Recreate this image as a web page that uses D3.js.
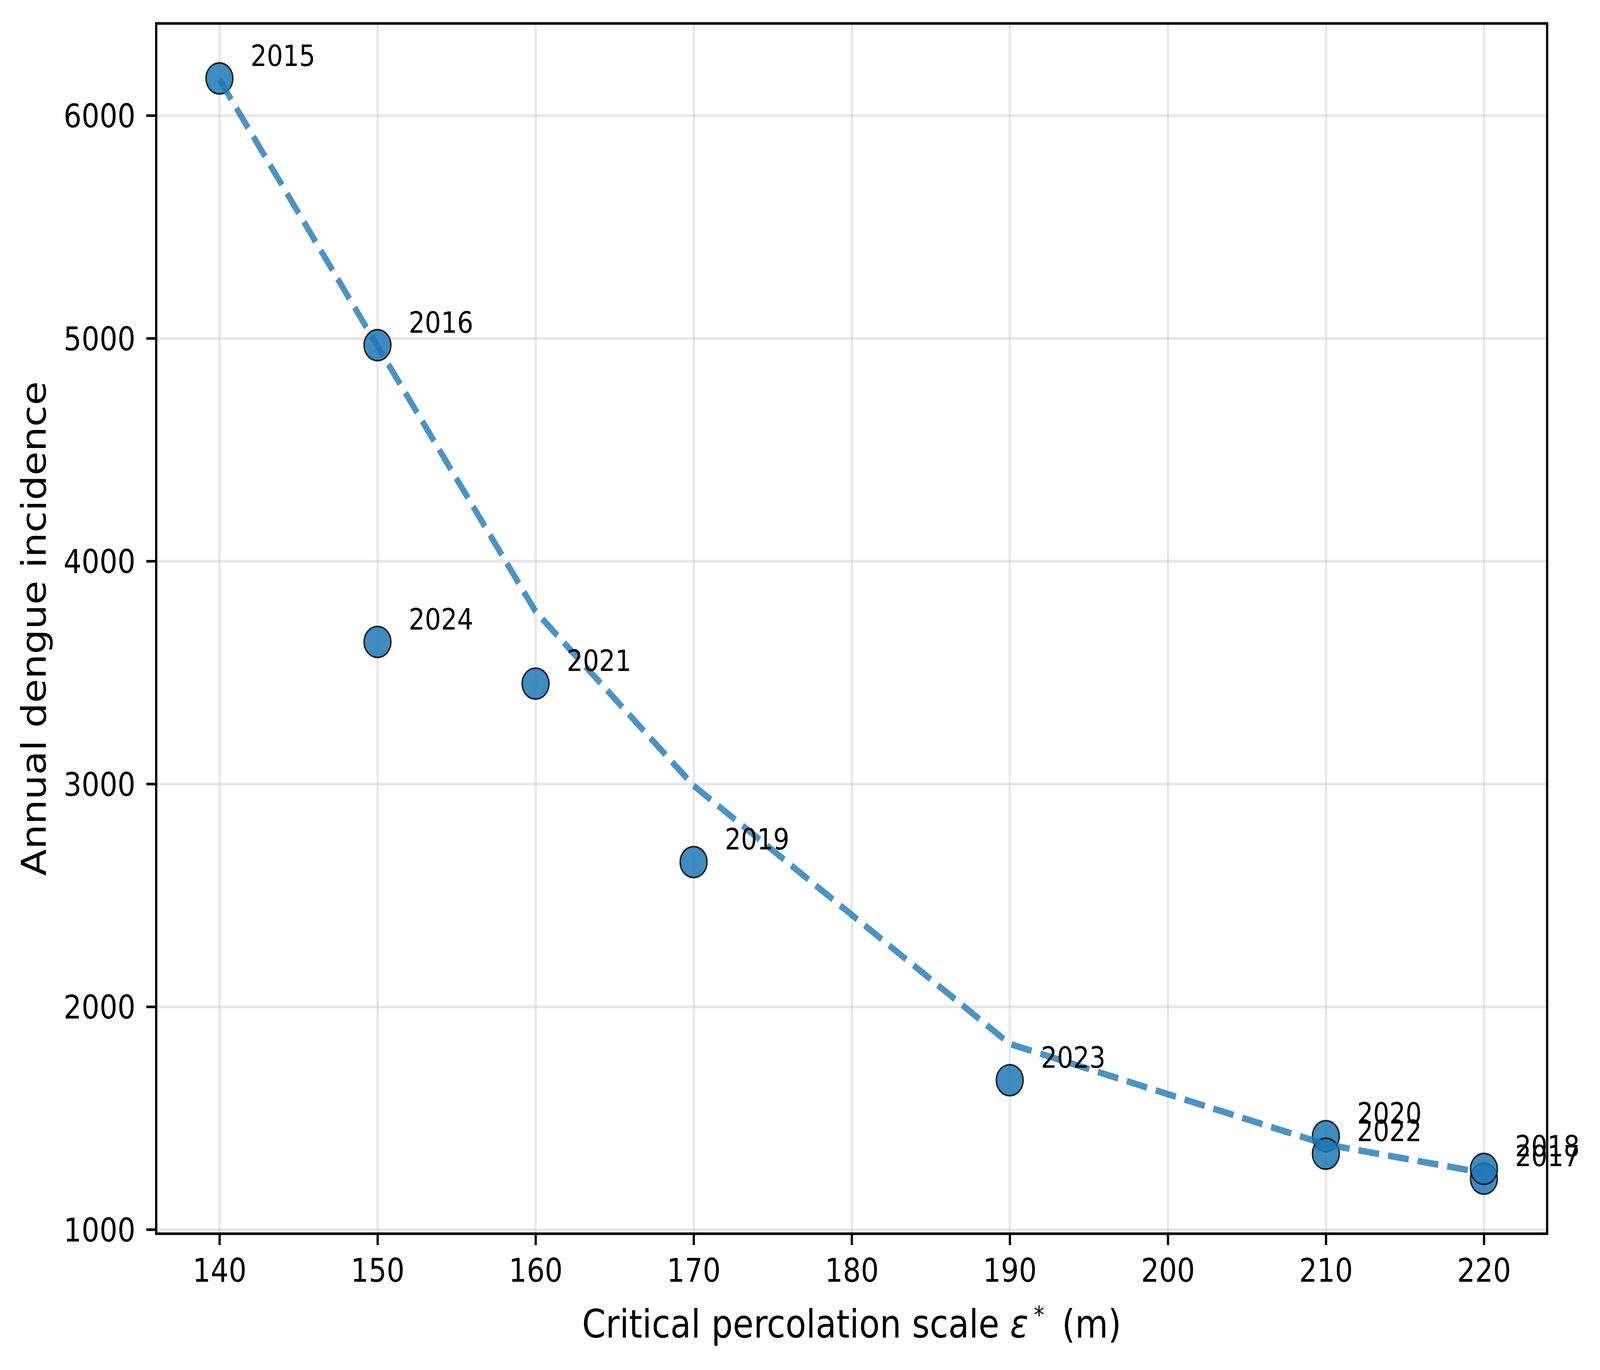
<!DOCTYPE html>
<html>
<head>
<meta charset="utf-8">
<script src="https://cdn.jsdelivr.net/npm/d3@7"></script>
<style>
  html, body { margin: 0; padding: 0; width: 100%; height: 100%; overflow: hidden; background: #fff; }
  #chart { width: 100vw; height: 100vh; }
  svg { display: block; }
  text { font-family: "DejaVu Sans", sans-serif; }
</style>
</head>
<body>
<div id="chart"></div>
<script>

// data
var years = [2015, 2016, 2017, 2018, 2019, 2020, 2021, 2022, 2023, 2024];
var scaleM = [140, 150, 220, 220, 170, 210, 160, 210, 190, 150];
var incidence = [6166, 4969, 1228, 1272, 2649, 1419, 3450, 1340, 1670, 3637];

// dashed trend line
var trendX = [140, 150, 160, 170, 190, 210, 220];
var trendY = [6161, 4965, 3774, 2992, 1833, 1382, 1254];

var xLabel = "Critical percolation scale ",
    yLabel = "Annual dengue incidence";

// setup dimensions (pixels at 600 dpi)
var W = 4722, H = 3508,
  margin = {top: 60, right: W - 4566, bottom: H - 3159, left: 461},
  width = W - margin.left - margin.right,
  height = H - margin.top - margin.bottom,
  pt = 600 / 72;

var blue = "#1f77b4";

// add svg, stretched to fill the window
var svg = d3.select("#chart").append("svg")
  .attr("viewBox", "0 0 " + W + " " + H)
  .attr("preserveAspectRatio", "none")
  .attr("width", "100%")
  .attr("height", "100%");
svg.append("rect").attr("width", W).attr("height", H).attr("fill", "#fff");

var g = svg.append("g")
  .attr("transform", "translate(" + margin.left + "," + margin.top + ")");

// setup scales with matplotlib style 5% margins
function padded(vals) {
  var e = d3.extent(vals), r = e[1] - e[0];
  return [e[0] - 0.05 * r, e[1] + 0.05 * r];
}
var x = d3.scaleLinear()
  .domain(padded(scaleM))
  .range([0, width]);
var y = d3.scaleLinear()
  .domain(padded(incidence))
  .range([height, 0]);

// grid
g.append("g")
  .attr("class", "grid")
  .attr("transform", "translate(0," + height + ")")
  .call(d3.axisBottom(x).ticks(10).tickSize(-height).tickFormat(""));
g.append("g")
  .attr("class", "grid")
  .call(d3.axisLeft(y).ticks(5).tickSize(-width).tickFormat(""));
g.selectAll(".grid .domain").remove();
g.selectAll(".grid line")
  .attr("stroke", "#b0b0b0")
  .attr("stroke-opacity", 0.3)
  .attr("stroke-width", 0.8 * pt);

// points
var pts = years.map(function(d, i) { return {year: d, x: scaleM[i], y: incidence[i]}; });
g.selectAll("circle.pt")
  .data(pts)
  .enter().append("circle")
  .attr("class", "pt")
  .attr("cx", function(d) { return x(d.x); })
  .attr("cy", function(d) { return y(d.y); })
  .attr("r", 39.7)
  .attr("fill", blue)
  .attr("fill-opacity", 0.85)
  .attr("stroke", "#000")
  .attr("stroke-opacity", 0.85)
  .attr("stroke-width", 0.5 * pt);

// trend line
var valueline = d3.line()
  .x(function(d, i) { return x(trendX[i]); })
  .y(function(d) { return y(d); });
g.append("path")
  .datum(trendY)
  .attr("d", valueline)
  .attr("fill", "none")
  .attr("stroke", blue)
  .attr("stroke-opacity", 0.8)
  .attr("stroke-width", 2 * pt)
  .attr("stroke-dasharray", (3.7 * 2 * pt) + "," + (1.6 * 2 * pt));

// year labels
g.selectAll("text.year")
  .data(pts)
  .enter().append("text")
  .attr("class", "year")
  .attr("x", function(d) { return x(d.x) + 92; })
  .attr("y", function(d) { return y(d.y) - 32; })
  .attr("font-size", 9 * pt)
  .attr("fill", "#000")
  .text(function(d) { return d.year; });

// axes
var xAxis = g.append("g")
  .attr("transform", "translate(0," + height + ")")
  .call(d3.axisBottom(x).ticks(10, "d").tickSize(3.5 * pt).tickPadding(35));
var yAxis = g.append("g")
  .call(d3.axisLeft(y).ticks(5, "d").tickSize(3.5 * pt).tickPadding(32));
[xAxis, yAxis].forEach(function(a) {
  a.select(".domain").remove();
  a.selectAll("line").attr("stroke", "#000").attr("stroke-width", 0.8 * pt);
  a.selectAll("text")
    .attr("font-size", 10 * pt)
    .attr("font-family", "DejaVu Sans")
    .attr("fill", "#000");
});
yAxis.selectAll("text").attr("dy", "0.36em");

// frame
g.append("rect")
  .attr("width", width)
  .attr("height", height)
  .attr("fill", "none")
  .attr("stroke", "#000")
  .attr("stroke-width", 0.8 * pt);

// axis titles
var xt = svg.append("text")
  .attr("x", margin.left + width / 2)
  .attr("y", 3425)
  .attr("text-anchor", "middle")
  .attr("font-size", 12 * pt)
  .attr("fill", "#000");
xt.append("tspan").text(xLabel);
xt.append("tspan").attr("font-style", "italic").text("ε");
xt.append("tspan").attr("font-size", 62).attr("dx", 16).attr("dy", -36).text("*");
xt.append("tspan").attr("dx", 20).attr("dy", 36).text(" (m)");

svg.append("text")
  .attr("transform", "translate(135," + (margin.top + height / 2) + ") rotate(-90)")
  .attr("text-anchor", "middle")
  .attr("font-size", 12 * pt)
  .attr("fill", "#000")
  .text(yLabel);

</script>
</body>
</html>
